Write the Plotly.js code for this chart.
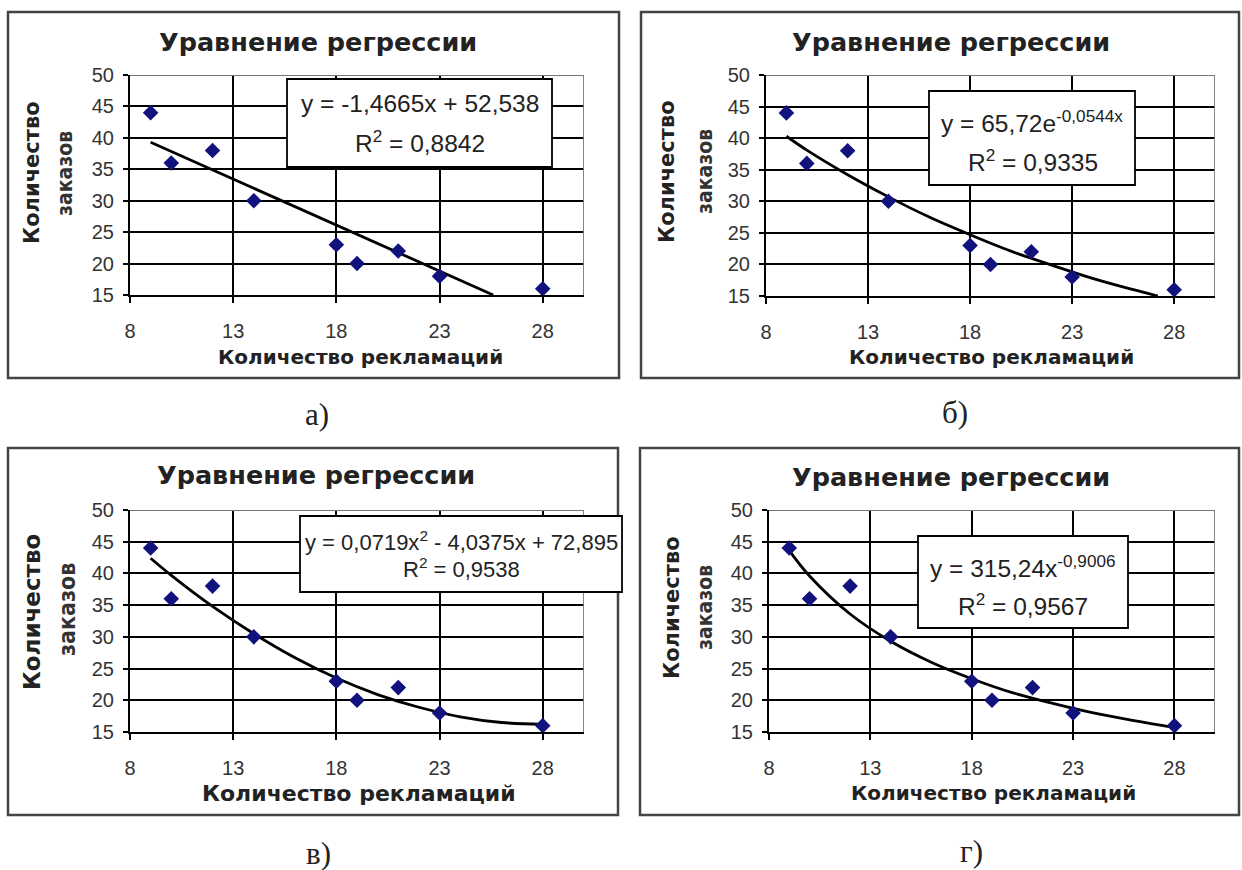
<!DOCTYPE html>
<html>
<head>
<meta charset="utf-8">
<script src="https://cdn.plot.ly/plotly-3.0.1.min.js"></script>
<style>html,body{margin:0;padding:0;background:#fff;}#chart{width:1242px;height:870px;}</style>
</head>
<body>
<div id="chart"></div>
<script>
// ---- data ----
const complaints = [9, 10, 12, 14, 18, 19, 21, 23, 28];
const orders     = [44, 36, 38, 30, 23, 20, 22, 18, 16];

const linTrendX = [9, 25.6];
const linTrendY = [39.3, 15.0];
const expTrendX = [9, 10, 12, 14, 16, 18, 20, 22, 24, 26, 27.2];
const expTrendY = [40.3, 38.1, 34.2, 30.7, 27.5, 24.7, 22.1, 19.9, 17.8, 16.0, 15.0];
const quadTrendX = [9, 10, 12, 14, 16, 18, 20, 22, 24, 26, 28];
const quadTrendY = [42.4, 39.7, 34.8, 30.5, 26.7, 23.5, 20.9, 18.9, 17.4, 16.5, 16.2];
const powTrendX = [9, 10, 12, 14, 16, 18, 20, 22, 24, 26, 28];
const powTrendY = [43.6, 39.6, 33.6, 29.3, 26.0, 23.4, 21.2, 19.5, 18.0, 16.8, 15.7];

const xTicks = [8, 13, 18, 23, 28];
const yTicks = [15, 20, 25, 30, 35, 40, 45, 50];

const chartTitle = 'Уравнение регрессии';
const xTitle = 'Количество рекламаций';
const yTitle1 = 'Количество';
const yTitle2 = 'заказов';
const panelLabels = ['а)', 'б)', 'в)', 'г)'];
const equations = [
  ['y = -1,4665x + 52,538', 'R<sup>2</sup> = 0,8842'],
  ['y = 65,72e<sup>-0,0544x</sup>', 'R<sup>2</sup> = 0,9335'],
  ['y = 0,0719x<sup>2</sup> - 4,0375x + 72,895', 'R<sup>2</sup> = 0,9538'],
  ['y = 315,24x<sup>-0,9006</sup>', 'R<sup>2</sup> = 0,9567']
];
const trendsX = [linTrendX, expTrendX, quadTrendX, powTrendX];
const trendsY = [linTrendY, expTrendY, quadTrendY, powTrendY];

// ---- layout geometry (pixels) ----
const W = 1242, H = 870;
const px = v => v / W, py = v => 1 - v / H;
const panels = [
  {plot:[130,584,75,295], frame:[8,619,12,378], title:[318,42], xt:[360,357], yt1:[32,173], yt2:[65,174], lab:[317,414],
   box:[287,552,79,167], eq1:[420,104,24.5], eq2:[420,142,24.5], ts:20},
  {plot:[766,1215,75,296], frame:[641,1239,12,378], title:[951,42], xt:[991,357], yt1:[667,172], yt2:[705,172], lab:[955,412],
   box:[929,1135,91,185], eq1:[1032,122,24.5], eq2:[1033,160,24.5], ts:20},
  {plot:[130,584,510,732], frame:[8,618,448,815], title:[316,475], xt:[359,793], yt1:[32,612], yt2:[67,610], lab:[319,853],
   box:[300,622,516,592], eq1:[461,541,22], eq2:[461,568,22], ts:22},
  {plot:[769,1215,510,732], frame:[640,1239,448,815], title:[951,477], xt:[993,793], yt1:[672,608], yt2:[705,608], lab:[971,851],
   box:[918,1128,536,628], eq1:[1023,566,24.5], eq2:[1023,604,24.5], ts:20}
];

const traces = [];
const layout = {
  width: W, height: H, margin:{l:0,r:0,t:0,b:0}, showlegend:false,
  paper_bgcolor:'#fff', plot_bgcolor:'#fff', hovermode:false,
  font:{family:'Liberation Sans, Arial, sans-serif', color:'#222', size:14},
  shapes:[], annotations:[]
};

panels.forEach((p, i) => {
  const n = i === 0 ? '' : String(i + 1);
  const xa = 'x' + n, ya = 'y' + n;
  traces.push({x: trendsX[i], y: trendsY[i], xaxis: xa, yaxis: ya, type:'scatter', mode:'lines',
    line:{color:'#000', width:2.8, shape: i === 0 ? 'linear' : 'spline'}});
  traces.push({x: complaints, y: orders, xaxis: xa, yaxis: ya, type:'scatter', mode:'markers',
    marker:{symbol:'diamond', size:12, color:'#12127e'}});

  const tf = {size:20, color:'#333', family:'Liberation Sans, Arial, sans-serif'};
  layout['xaxis' + n] = {domain:[px(p.plot[0]), px(p.plot[1])], anchor: ya, range:[8,30],
    tickvals: xTicks, ticktext: xTicks.map(String), showgrid:true, gridcolor:'#000', gridwidth:2,
    showline:true, linecolor:'#000', linewidth:2, ticks:'outside', ticklen:6, tickwidth:2, tickcolor:'#000',
    zeroline:false, ticklabelstandoff:11, tickfont: tf, fixedrange:true};
  layout['yaxis' + n] = {domain:[py(p.plot[3]), py(p.plot[2])], anchor: xa, range:[15,50],
    tickvals: yTicks, ticktext: yTicks.map(String), showgrid:true, gridcolor:'#000', gridwidth:2,
    showline:true, linecolor:'#000', linewidth:2, ticks:'outside', ticklen:5, tickwidth:2, tickcolor:'#000',
    zeroline:false, ticklabelstandoff:5, tickfont: tf, fixedrange:true};

  // outer frame
  layout.shapes.push({type:'rect', xref:'paper', yref:'paper', x0:px(p.frame[0]), x1:px(p.frame[1]),
    y0:py(p.frame[3]), y1:py(p.frame[2]), line:{color:'#444', width:2.5}, layer:'below'});
  // plot-area border (top and right, gray)
  layout.shapes.push({type:'line', xref:xa, yref:ya, x0:8, x1:30, y0:50, y1:50, line:{color:'#777', width:1.8}});
  layout.shapes.push({type:'line', xref:xa, yref:ya, x0:30, x1:30, y0:15, y1:50, line:{color:'#777', width:1.8}});
  // equation box
  layout.shapes.push({type:'rect', xref:'paper', yref:'paper', x0:px(p.box[0]), x1:px(p.box[1]),
    y0:py(p.box[3]), y1:py(p.box[2]), fillcolor:'#fff', line:{color:'#000', width:1.8}, layer:'above'});

  const ann = (txt, xy, font, extra) => Object.assign({text: txt, xref:'paper', yref:'paper', x: px(xy[0]), y: py(xy[1]),
    xanchor:'center', yanchor:'middle', showarrow:false, font: font}, extra || {});
  const boldFont = s => ({size:s, color:'#222', family:'DejaVu Sans, sans-serif', weight:'bold'});
  layout.annotations.push(ann(chartTitle, p.title, boldFont(25.5)));
  layout.annotations.push(ann(xTitle, p.xt, boldFont(p.ts)));
  layout.annotations.push(ann(yTitle1, p.yt1, boldFont(p.ts + 1), {textangle:-90}));
  layout.annotations.push(ann(yTitle2, p.yt2, {size:p.ts + 1, color:'#333', family:'DejaVu Sans Condensed, DejaVu Sans, sans-serif', weight:'bold'}, {textangle:-90}));
  layout.annotations.push(ann(panelLabels[i], p.lab, {size:31, color:'#222', family:'Liberation Serif, Times New Roman, serif'}));
  layout.annotations.push(ann(equations[i][0], p.eq1, {size:p.eq1[2], color:'#222', family:'Liberation Sans, Arial, sans-serif'}));
  layout.annotations.push(ann(equations[i][1], p.eq2, {size:p.eq2[2], color:'#222', family:'Liberation Sans, Arial, sans-serif'}));
});

Plotly.newPlot('chart', traces, layout, {staticPlot:true, displayModeBar:false});
</script>
</body>
</html>
